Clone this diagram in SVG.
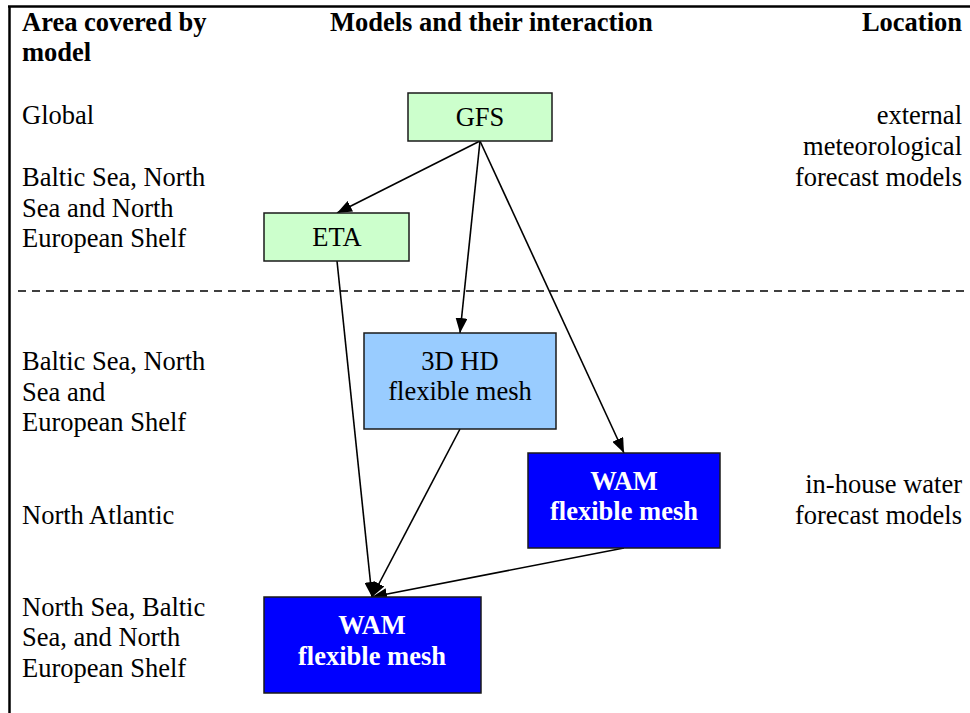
<svg xmlns="http://www.w3.org/2000/svg" width="970" height="713" viewBox="0 0 970 713">
<style>
text{font-size:26.5px;fill:#000}
.h{font-weight:bold}
.r{text-anchor:end}
.c{text-anchor:middle}
.w{fill:#fff;font-weight:bold}
.box{stroke:#1a1a1a;stroke-width:1.5}
.e{stroke:#000;stroke-width:1.6;fill:none;marker-end:url(#ah)}
</style>
<defs>
<marker id="ah" markerWidth="15" markerHeight="12" refX="15" refY="6" orient="auto" markerUnits="userSpaceOnUse">
<path d="M0,0 L15,6 L0,12 Z" fill="#000"/>
</marker>
</defs>
<rect width="970" height="713" fill="#fff"/>
<g id="frame" stroke="#000" stroke-width="2.5">
<line x1="8" y1="6.5" x2="970" y2="6.5"/>
<line x1="9.5" y1="6" x2="9.5" y2="713"/>
</g>
<line id="divider" x1="18" y1="291" x2="970" y2="291" stroke="#000" stroke-width="1.5" stroke-dasharray="8,6"/>
<g font-family="Liberation Serif, Times New Roman, DejaVu Serif, serif">
<g id="headers">
<text class="h" x="22" y="31">Area covered by</text>
<text class="h" x="22" y="61">model</text>
<text class="h" x="330" y="31">Models and their interaction</text>
<text class="h r" x="962" y="31">Location</text>
</g>
<g id="areas">
<text x="22" y="124">Global</text>
<text x="22" y="186">Baltic Sea, North</text>
<text x="22" y="217">Sea and North</text>
<text x="22" y="247">European Shelf</text>
<text x="22" y="370">Baltic Sea, North</text>
<text x="22" y="401">Sea and</text>
<text x="22" y="431">European Shelf</text>
<text x="22" y="524">North Atlantic</text>
<text x="22" y="616">North Sea, Baltic</text>
<text x="22" y="646">Sea, and North</text>
<text x="22" y="677">European Shelf</text>
</g>
<g id="locations">
<text class="r" x="962" y="124">external</text>
<text class="r" x="962" y="155">meteorological</text>
<text class="r" x="962" y="186">forecast models</text>
<text class="r" x="962" y="493">in-house water</text>
<text class="r" x="962" y="524">forecast models</text>
</g>
<g id="connectors">
<line class="e" x1="480" y1="141" x2="337" y2="213"/>
<line class="e" x1="480" y1="141" x2="460" y2="333"/>
<line class="e" x1="480" y1="141" x2="624" y2="453"/>
<line class="e" x1="337" y1="261" x2="372" y2="597"/>
<line class="e" x1="460" y1="429" x2="372" y2="597"/>
<line class="e" x1="624" y1="548" x2="372" y2="597"/>
</g>
<g id="GFS">
<rect class="box" x="408" y="93" width="144" height="48" fill="#ccffcc"/>
<text class="c" x="480" y="126">GFS</text>
</g>
<g id="ETA">
<rect class="box" x="264" y="213" width="145" height="48" fill="#ccffcc"/>
<text class="c" x="337" y="246">ETA</text>
</g>
<g id="HD3D">
<rect class="box" x="364" y="333" width="192" height="96" fill="#99ccff"/>
<text class="c" x="460" y="370">3D HD</text>
<text class="c" x="460" y="400">flexible mesh</text>
</g>
<g id="WAM_NA">
<rect class="box" x="528" y="453" width="192" height="95" fill="#0000ff"/>
<text class="c w" x="624" y="490">WAM</text>
<text class="c w" x="624" y="520">flexible mesh</text>
</g>
<g id="WAM_NS">
<rect class="box" x="264" y="597" width="217" height="96" fill="#0000ff"/>
<text class="c w" x="372" y="634">WAM</text>
<text class="c w" x="372" y="665">flexible mesh</text>
</g>
</g>
</svg>
